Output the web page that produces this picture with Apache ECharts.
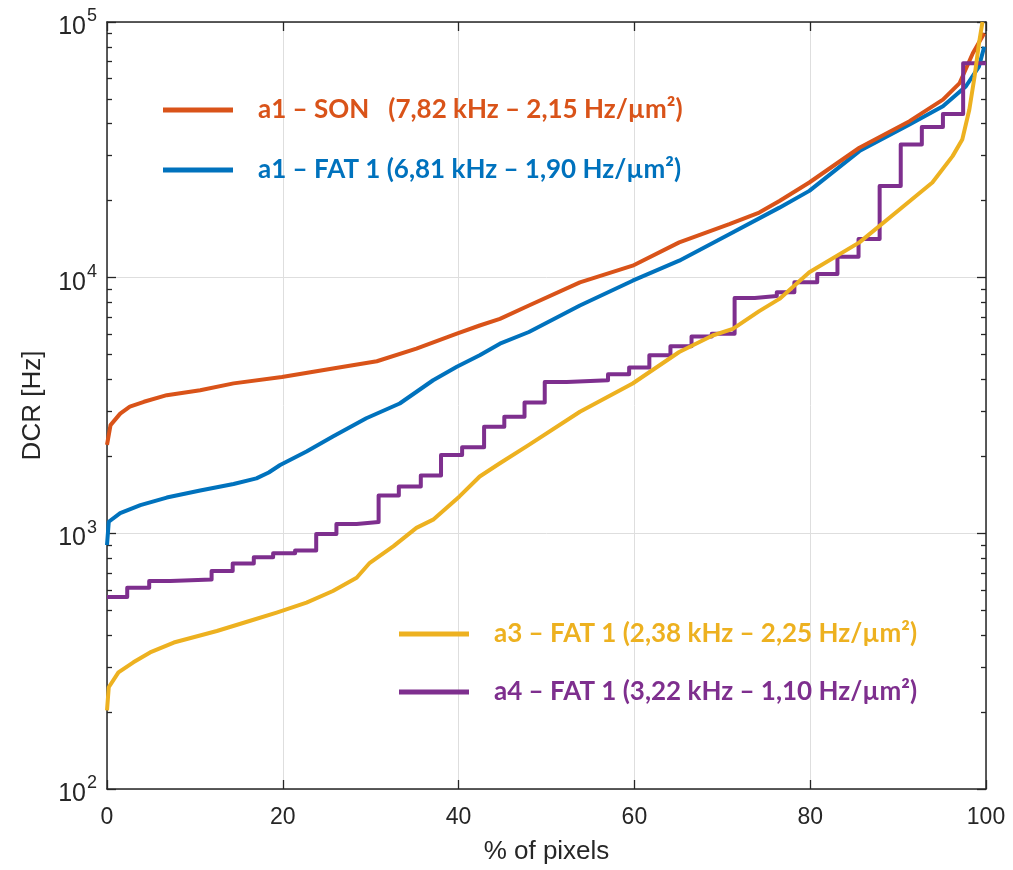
<!DOCTYPE html>
<html>
<head>
<meta charset="utf-8">
<title>DCR distribution</title>
<script src="https://cdn.jsdelivr.net/npm/echarts@6/dist/echarts.min.js"></script>
<style>
  html, body { margin: 0; padding: 0; background: #ffffff; }
  #chart { width: 1013px; height: 870px; }
</style>
</head>
<body>
<div id="chart"></div>
<script>
// Cumulative DCR curves: share of pixels (%) versus dark count rate (Hz)

// a1 – SON
const sonPct = [0, 0.4, 1.5, 2.6, 4.2, 6.8, 10.6, 14.4, 19.9, 25.7, 30.7, 35.2, 39.8, 42.4, 44.7, 48, 53.8, 59.8, 65.1, 70.8, 74.2, 76.5, 79.9, 85.6, 91.3, 95.1, 97.0, 98.5, 99.8];
const sonDcr = [2220, 2650, 2940, 3130, 3270, 3470, 3630, 3860, 4090, 4410, 4710, 5280, 6040, 6500, 6900, 7780, 9590, 11140, 13740, 16190, 17980, 19960, 23560, 32220, 40930, 49700, 57700, 75500, 90300];

// a1 – FAT 1
const fatPct = [0, 0.2, 1.5, 3.8, 6.8, 10.6, 14.4, 17.0, 18.4, 19.7, 22.7, 25.7, 29.5, 33.3, 37.1, 39.8, 42.4, 44.7, 48, 53.8, 59.8, 65.1, 70.8, 76.5, 79.9, 85.6, 91.3, 95.1, 97.7, 99.2, 99.8];
const fatDcr = [900, 1110, 1200, 1290, 1380, 1470, 1560, 1640, 1730, 1850, 2090, 2390, 2820, 3220, 3970, 4480, 4970, 5520, 6130, 7780, 9730, 11650, 14790, 18790, 21850, 31270, 39720, 46780, 55950, 66950, 80100];

// a3 – FAT 1
const a3Pct = [0, 0.2, 1.3, 3.0, 4.9, 7.6, 12.5, 16.3, 19.3, 22.7, 25.7, 28.4, 29.9, 32.6, 35.2, 37.1, 40.1, 42.4, 44.7, 48, 53.8, 59.8, 65.1, 68.9, 71.2, 74.2, 76.5, 79.9, 85.6, 90.2, 93.9, 96.2, 97.3, 98.1, 98.7, 99.2, 99.6];
const a3Dcr = [203, 250, 286, 313, 342, 374, 415, 455, 490, 536, 595, 670, 767, 891, 1050, 1131, 1394, 1668, 1880, 2218, 2990, 3855, 5120, 5940, 6310, 7400, 8260, 10500, 13740, 18530, 23560, 29880, 34680, 45390, 61200, 82600, 100000];

// a4 – FAT 1 (staircase: each level starts at the given percentage)
const a4StepPct = [0, 2.3, 4.8, 7.2, 11.9, 14.3, 16.7, 18.9, 21.4, 23.8, 26.1, 28.4, 30.9, 33.2, 35.7, 38.0, 40.4, 42.9, 45.2, 47.5, 49.8, 52.3, 57.0, 59.4, 61.7, 64.1, 66.5, 68.8, 71.4, 73.7, 76.2, 78.2, 80.8, 83.1, 85.5, 87.9, 90.3, 92.7, 95.1, 97.4];
const a4Level = [564, 613, 651, 660, 712, 762, 807, 836, 857, 994, 1088, 1107, 1407, 1525, 1684, 2027, 2172, 2614, 2857, 3250, 3910, 3970, 4190, 4450, 4970, 5390, 5893, 6035, 8320, 8470, 8760, 9590, 10330, 12070, 14150, 22810, 33170, 38870, 43660, 69000];

// Legend entries
const seriesNames = [
  'a1 – SON   (7,82 kHz – 2,15 Hz/µm²)',
  'a1 – FAT 1 (6,81 kHz – 1,90 Hz/µm²)',
  'a3 – FAT 1 (2,38 kHz – 2,25 Hz/µm²)',
  'a4 – FAT 1 (3,22 kHz – 1,10 Hz/µm²)'
];
const seriesColors = ['#D95319', '#0072BD', '#EDB120', '#7E2F8E'];

// Axes
const xMin = 0, xMax = 100, xStep = 20;
const yMin = 100, yMax = 100000;
const yMajorTicks = [100, 1000, 10000, 100000];
const yMinorTicks = [];
for (let d = 0; d < yMajorTicks.length - 1; d++) {
  for (let m = 2; m <= 9; m++) yMinorTicks.push(m * yMajorTicks[d]);
}

const pairs = (xs, ys) => xs.map((x, i) => [x, ys[i]]);
const a4Data = pairs(a4StepPct, a4Level).concat([[xMax, a4Level[a4Level.length - 1]]]);

const ink = '#262626';
const gridColor = '#dedede';
const labelFont = 'Liberation Sans';
const legendFont = 'Lato';

function lineSeries(name, color, data, extra) {
  return Object.assign({
    name: name,
    type: 'line',
    data: data,
    showSymbol: false,
    symbol: 'none',
    color: color,
    lineStyle: { width: 4, color: color, cap: 'butt', join: 'round' },
    xAxisIndex: 0,
    yAxisIndex: 0,
    silent: true,
    animation: false
  }, extra || {});
}

function legendBlock(left, top, gap, names, colors) {
  return {
    orient: 'vertical',
    left: left,
    top: top,
    padding: 0,
    itemWidth: 70,
    itemHeight: 5,
    itemGap: gap,
    icon: 'rect',
    selectedMode: false,
    textStyle: { fontFamily: legendFont, fontWeight: 'bold', fontSize: 26, lineHeight: 24, padding: [0, 0, 0, 20] },
    data: names.map((n, i) => ({ name: n, textStyle: { color: colors[i] } }))
  };
}

const logAxisBase = {
  type: 'log',
  logBase: 10,
  min: yMin,
  max: yMax,
  gridIndex: 0
};

const option = {
  backgroundColor: '#ffffff',
  animation: false,
  grid: { left: 107, right: 27, top: 22, bottom: 78, containLabel: false },
  legend: [
    legendBlock(163, 97, 34, seriesNames.slice(0, 2), seriesColors.slice(0, 2)),
    legendBlock(399, 621, 32, seriesNames.slice(2, 4), seriesColors.slice(2, 4))
  ],
  xAxis: [
    {
      type: 'value',
      position: 'bottom',
      min: xMin, max: xMax, interval: xStep,
      name: '% of pixels',
      nameLocation: 'middle',
      nameGap: 50,
      nameTextStyle: { color: ink, fontFamily: labelFont, fontSize: 26 },
      axisLine: { show: true, lineStyle: { color: ink, width: 1.5 } },
      axisTick: { show: true, inside: true, length: 9, lineStyle: { color: ink, width: 1.3 } },
      axisLabel: { color: ink, fontFamily: labelFont, fontSize: 23, margin: 17 },
      splitLine: { show: true, lineStyle: { color: gridColor, width: 1 } }
    },
    {
      type: 'value',
      position: 'top',
      min: xMin, max: xMax, interval: xStep,
      axisLine: { show: true, lineStyle: { color: ink, width: 1.5 } },
      axisTick: { show: true, inside: true, length: 9, lineStyle: { color: ink, width: 1.3 } },
      axisLabel: { show: false },
      splitLine: { show: false }
    }
  ],
  yAxis: [
    Object.assign({}, logAxisBase, {
      position: 'left',
      name: 'DCR [Hz]',
      nameLocation: 'middle',
      nameGap: 61,
      nameRotate: 90,
      nameTextStyle: { color: ink, fontFamily: labelFont, fontSize: 26 },
      axisLine: { show: true, lineStyle: { color: ink, width: 1.5 } },
      axisTick: { show: true, inside: true, length: 9, customValues: yMajorTicks, lineStyle: { color: ink, width: 1.3 } },
      axisLabel: {
        margin: 10,
        color: ink,
        fontFamily: labelFont,
        fontSize: 25,
        customValues: yMajorTicks,
        formatter: function (v) {
          return '{b|10}{e|' + Math.round(Math.log10(v)) + '}';
        },
        rich: {
          b: { color: ink, fontFamily: labelFont, fontSize: 25, lineHeight: 25, padding: [10, 0, 0, 0] },
          e: { color: ink, fontFamily: labelFont, fontSize: 18, lineHeight: 18, padding: [3, 0, 14, 1] }
        }
      },
      splitLine: { show: true, lineStyle: { color: gridColor, width: 1 } }
    }),
    Object.assign({}, logAxisBase, {
      position: 'left',
      axisLine: { show: false },
      axisTick: { show: true, inside: true, length: 5, customValues: yMinorTicks, lineStyle: { color: ink, width: 1.3 } },
      axisLabel: { show: false },
      splitLine: { show: false }
    }),
    Object.assign({}, logAxisBase, {
      position: 'right',
      axisLine: { show: true, lineStyle: { color: ink, width: 1.5 } },
      axisTick: { show: true, inside: true, length: 9, customValues: yMajorTicks, lineStyle: { color: ink, width: 1.3 } },
      axisLabel: { show: false },
      splitLine: { show: false }
    }),
    Object.assign({}, logAxisBase, {
      position: 'right',
      axisLine: { show: false },
      axisTick: { show: true, inside: true, length: 5, customValues: yMinorTicks, lineStyle: { color: ink, width: 1.3 } },
      axisLabel: { show: false },
      splitLine: { show: false }
    })
  ],
  series: [
    lineSeries(seriesNames[1], seriesColors[1], pairs(fatPct, fatDcr)),
    lineSeries(seriesNames[0], seriesColors[0], pairs(sonPct, sonDcr)),
    lineSeries(seriesNames[3], seriesColors[3], a4Data, { step: 'end' }),
    lineSeries(seriesNames[2], seriesColors[2], pairs(a3Pct, a3Dcr))
  ]
};

const chart = echarts.init(document.getElementById('chart'), null, { renderer: 'canvas' });
chart.setOption(option);
</script>
</body>
</html>
